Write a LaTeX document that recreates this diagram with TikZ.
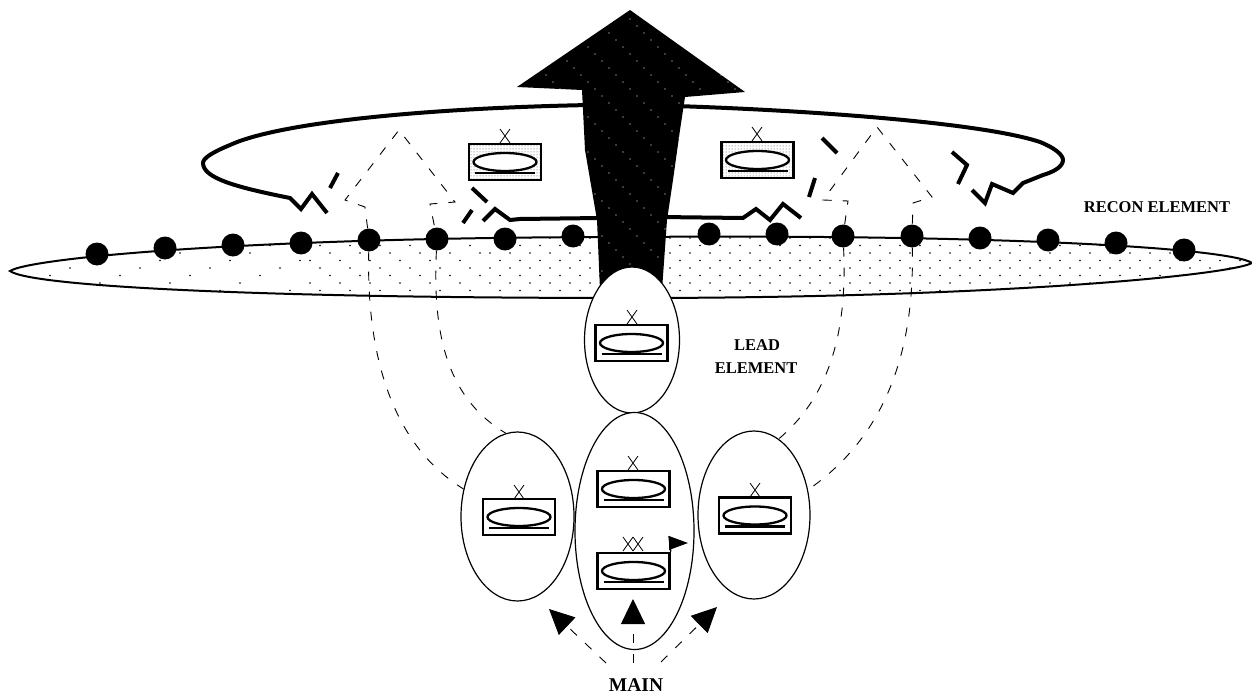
\documentclass[tikz,border=0pt]{standalone}
\usepackage{fontspec}
\setmainfont{Liberation Serif}
\usetikzlibrary{shapes.geometric,arrows.meta,patterns}
\tikzset{
  thickline/.style={line width=4pt,line join=miter},
  dsh/.style={line width=0.9pt,dash pattern=on 9pt off 11pt},
  element/.style={draw,ellipse,line width=1.2pt,inner sep=0pt,fill=white},
  post/.style={circle,fill=black,minimum size=23pt,inner sep=0pt},
  unitframe/.style={draw,rectangle,line width=2.5pt,inner sep=0pt,minimum width=72pt,minimum height=36pt,fill=white},
  speckled/.style={unitframe,pattern=dots,pattern color=black!70},
  unitoval/.style={draw,ellipse,line width=2.3pt,inner sep=0pt,minimum width=63pt,minimum height=18pt,fill=white},
  xmark/.style={line width=0.8pt},
  lbl/.style={font=\bfseries\fontsize{16.5}{19}\selectfont,align=center,inner sep=0pt},
  moveline/.style={line width=0.9pt,dash pattern=on 9pt off 11pt,-{Triangle[length=25pt,width=24pt]}}
}
\newcommand{\unitbox}[4][unitframe]{%
  \node[#1] (#2) at (#3,#4) {};
  \node[unitoval] (#2o) at (#3,#4) {};
  \draw[line width=2.5pt] (#3-30,#4+11) -- (#3+30,#4+11);
}
\newcommand{\xsym}[2]{%
  \draw[xmark] (#1-5,#2-7) -- (#1+5,#2+7) (#1+5,#2-7) -- (#1-5,#2+7);
}
\begin{document}
\begin{tikzpicture}[x=1pt,y=-1pt]
\useasboundingbox (0,0) rectangle (1252,695);
% recon ellipse
\def\reconpath{(10,271) .. controls (30,258) and (250,237) .. (632,237) .. controls (1000,234) and (1230,248) .. (1252,263) .. controls (1230,275) and (1000,298) .. (632,298) .. controls (250,298) and (30,286) .. (10,271) -- cycle}
\fill[white] \reconpath;
\begin{scope}
  \clip \reconpath;
  \foreach \i in {0,...,124}{
    \foreach \j in {0,...,8}{
      \pgfmathtruncatemacro{\keep}{\i<30 ? (mod(\i*5+\j*3,7)==0) : (\i<48 ? (mod(\i+\j*2,3)==0) : (mod(\i+\j,2)==0))}
      \ifnum\keep=1
        \fill (10+\i*10,238+\j*7.5) circle (0.9pt);
      \fi
    }
  }
\end{scope}
\draw[line width=2pt] \reconpath;
% thick outline and breaks
\coordinate (la) at (590,105);
\coordinate (ra) at (675,106);
\coordinate (lb) at (600,218);
\coordinate (rb) at (660,217);
\draw[thickline] (la) .. controls (430,108) and (280,122) .. (230,145) .. controls (213,152) and (203,158) .. (203,163) .. controls (203,178) and (235,187) .. (290,198) -- (301,209) -- (312,194) -- (327,213);
\draw[thickline] (330,188) -- (338,173);
\draw[thickline] (472,188) -- (487,202);
\draw[thickline] (463,223) -- (472,210);
\draw[thickline] (lb) -- (520,219) -- (510,220) -- (495,209) -- (483,221);
\draw[thickline] (rb) -- (743,218) -- (756,209) -- (770,220) -- (783,204) -- (801,218);
\draw[thickline] (822,138) -- (837,153);
\draw[thickline] (815,178) -- (809,197);
\draw[thickline] (ra) .. controls (800,110) and (980,122) .. (1040,142) .. controls (1055,148) and (1063,155) .. (1063,160) .. controls (1063,168) and (1050,173) .. (1043,175) -- (1023,183) -- (1013,193) -- (992,184) -- (985,203) -- (972,190);
\draw[thickline] (952,152) -- (967,165) -- (958,184);
% posts
\foreach \n/\x/\y in {1/97/254,2/165/248,3/233/245,4/301/243,5/369/240,6/437/239,7/505/239,8/573/236,10/709/234,11/777/234,12/843/236,13/912/236,14/980/238,15/1048/240,16/1116/243,17/1184/250}{
  \node[post] (d\n) at (\x,\y) {};
}
% axis arrow
\def\arrowpath{(630,10) -- (745,92) -- (685,97) -- (680,130) -- (673,180) -- (667,220) -- (662,290) -- (600,290) -- (597,220) -- (585,150) -- (582,90) -- (517,87) -- cycle}
\fill[black] \arrowpath;
\begin{scope}
  \clip \arrowpath;
  \foreach \i in {0,...,32}{
    \foreach \j in {0,...,38}{
      \pgfmathtruncatemacro{\keep}{mod(\i*2+\j*3,5)==0}
      \ifnum\keep=1
        \fill[white] (518+\i*7,12+\j*7) circle (0.6pt);
      \fi
    }
  }
\end{scope}
% elements
\node[element,minimum width=95pt,minimum height=146pt] (lead) at (632,340) {};
\node[element,minimum width=119pt,minimum height=237pt] (main) at (634.5,531) {};
\node[element,minimum width=113pt,minimum height=169pt] (left) at (517.5,516.5) {};
\node[element,minimum width=112pt,minimum height=168pt] (right) at (754,515) {};
% units
\unitbox[speckled]{ut1}{505}{162}
\unitbox[speckled]{ut2}{757.5}{160}
\unitbox{u1}{631.5}{343}
\unitbox{u2}{633.5}{489}
\unitbox{u3}{519}{517}
\unitbox{u4}{755}{515.5}
\unitbox{u5}{633.5}{571}
\xsym{505}{136}
\xsym{757}{134}
\xsym{632}{317}
\xsym{633}{463}
\xsym{519}{492}
\xsym{755}{490}
\xsym{628}{544}
\xsym{638}{544}
\draw[line width=1.4pt] (u5.north east) -- (669,536);
\fill (669,536) -- (688,543) -- (669,550) -- cycle;
% dashed routes
\coordinate (pk1) at (399,130);
\coordinate (a1) at (345,200);
\coordinate (a2) at (365,207);
\coordinate (a3) at (455,202);
\coordinate (a4) at (430,204);
\coordinate (pk2) at (877,127);
\coordinate (b1) at (823,200);
\coordinate (b2) at (848,201);
\coordinate (b3) at (932,197);
\coordinate (b4) at (913,203);
\draw[dsh] (d5) -- (a2) -- (a1) -- (pk1) -- (a3) -- (a4) -- (d6);
\draw[dsh] (d12) -- (b2) -- (b1) -- (pk2) -- (b3) -- (b4) -- (d13);
\draw[dsh] (d5) .. controls (366,370) and (400,450) .. (left.153);
\draw[dsh] (d6) .. controls (432,340) and (450,400) .. (left.98);
\draw[dsh] (d12) .. controls (848,340) and (825,400) .. (right.72);
\draw[dsh] (d13) .. controls (915,360) and (880,440) .. (right.25);
% movement arrows
\coordinate (m1) at (606,663);
\coordinate (m2) at (633,663);
\coordinate (m3) at (661,662);
\coordinate (t1) at (549,609);
\coordinate (t2) at (633,599);
\coordinate (t3) at (717,607);
\draw[moveline] (m1) -- (t1);
\draw[moveline] (m2) -- (t2);
\draw[moveline] (m3) -- (t3);
% labels
\node[lbl] (recon) at (1157,207) {RECON ELEMENT};
\node[lbl,anchor=center] (leadt1) at (757,345) {LEAD};
\node[lbl,anchor=center] (leadt2) at (756,368) {ELEMENT};
\node[lbl,font=\bfseries\fontsize{19.5}{22}\selectfont] (maint) at (636,685) {MAIN};
\end{tikzpicture}
\end{document}
